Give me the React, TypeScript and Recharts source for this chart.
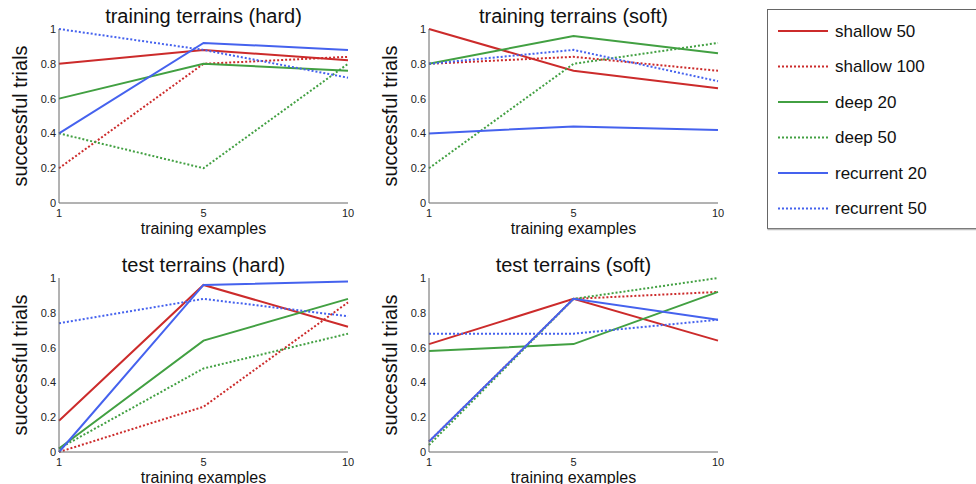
import { LineChart, Line, XAxis, YAxis } from "recharts";

const examples = ["1", "5", "10"];
const yTicks = [0, 0.2, 0.4, 0.6, 0.8, 1];

const seriesNames = ["shallow 50", "shallow 100", "deep 20", "deep 50", "recurrent 20", "recurrent 50"];
const seriesColors = ["#cc2b2b", "#cc2b2b", "#42a042", "#42a042", "#4562ee", "#4562ee"];
const seriesDotted = [false, true, false, true, false, true];

// values per series, one entry per number of training examples (1, 5, 10)
const trainHard = [
  [0.8, 0.88, 0.82],
  [0.2, 0.8, 0.84],
  [0.6, 0.8, 0.76],
  [0.4, 0.2, 0.8],
  [0.4, 0.92, 0.88],
  [1.0, 0.88, 0.72],
];
const trainSoft = [
  [1.0, 0.76, 0.66],
  [0.8, 0.84, 0.76],
  [0.8, 0.96, 0.86],
  [0.2, 0.8, 0.92],
  [0.4, 0.44, 0.42],
  [0.8, 0.88, 0.7],
];
const testHard = [
  [0.18, 0.96, 0.72],
  [0.0, 0.26, 0.86],
  [0.02, 0.64, 0.88],
  [0.02, 0.48, 0.68],
  [0.0, 0.96, 0.98],
  [0.74, 0.88, 0.78],
];
const testSoft = [
  [0.62, 0.88, 0.64],
  [0.06, 0.88, 0.92],
  [0.58, 0.62, 0.92],
  [0.04, 0.88, 1.0],
  [0.06, 0.88, 0.76],
  [0.68, 0.68, 0.76],
];

const FONT = "'Liberation Sans', Arial, sans-serif";

function toRows(values: number[][]) {
  return examples.map((x, i) => {
    const row: Record<string, string | number> = { x };
    seriesNames.forEach((name, s) => {
      row[name] = values[s][i];
    });
    return row;
  });
}

function Panel({ title, values, left, top }: { title: string; values: number[][]; left: number; top: number }) {
  const data = toRows(values);
  return (
    <div style={{ position: "absolute", left, top, width: 370, height: 240 }}>
      <div
        style={{
          position: "absolute",
          left: 59,
          width: 289,
          top: 4,
          textAlign: "center",
          fontFamily: FONT,
          fontSize: 20,
          lineHeight: "24px",
          color: "#111",
          zIndex: 1,
        }}
      >
        {title}
      </div>
      <LineChart width={370} height={240} data={data} margin={{ top: 29, right: 22, bottom: 0, left: 0 }}>
        <XAxis
          dataKey="x"
          type="category"
          padding={{ left: 0, right: 0 }}
          height={37}
          tickLine={false}
          tickSize={4}
          tickMargin={2}
          axisLine={{ stroke: "#666" }}
          tick={{ fontSize: 11, fill: "#222", fontFamily: FONT }}
          interval={0}
          label={{
            content: (p: any) => {
              const vb = p.viewBox;
              return (
                <text
                  x={vb.x + vb.width / 2}
                  y={vb.y + 25}
                  textAnchor="middle"
                  dominantBaseline="central"
                  fontSize={16}
                  fontFamily={FONT}
                  fill="#111"
                >
                  training examples
                </text>
              );
            },
          }}
        />
        <YAxis
          type="number"
          domain={[0, 1]}
          ticks={yTicks}
          width={59}
          tickLine={false}
          tickSize={0}
          tickMargin={3}
          axisLine={{ stroke: "#666" }}
          tick={{ fontSize: 11, fill: "#222", fontFamily: FONT }}
          tickFormatter={(v: number) => String(v)}
          label={{
            content: (p: any) => {
              const vb = p.viewBox;
              const cx = vb.x + 20;
              const cy = vb.y + vb.height / 2;
              return (
                <text
                  x={cx}
                  y={cy}
                  transform={`rotate(-90 ${cx} ${cy})`}
                  textAnchor="middle"
                  dominantBaseline="central"
                  fontSize={20}
                  fontFamily={FONT}
                  fill="#111"
                >
                  successful trials
                </text>
              );
            },
          }}
        />
        {seriesNames.map((name, i) => (
          <Line
            key={name}
            dataKey={name}
            type="linear"
            stroke={seriesColors[i]}
            strokeWidth={2}
            strokeDasharray={seriesDotted[i] ? "2 2" : undefined}
            dot={false}
            activeDot={false}
            isAnimationActive={false}
          />
        ))}
      </LineChart>
    </div>
  );
}

function SeriesLegend() {
  return (
    <svg
      width={220}
      height={225}
      style={{ position: "absolute", left: 766, top: 8, overflow: "visible" }}
    >
      <rect x={1.5} y={1.5} width={220} height={219} fill="#fff" stroke="#666" strokeWidth={1} />
      <line x1={1.5} y1={221.5} x2={222} y2={221.5} stroke="#bbb" strokeWidth={1.5} />
      {seriesNames.map((name, i) => {
        const y = 23 + i * 35.5;
        return (
          <g key={name}>
            <line
              x1={12}
              x2={62}
              y1={y}
              y2={y}
              stroke={seriesColors[i]}
              strokeWidth={2}
              strokeDasharray={seriesDotted[i] ? "2 2" : undefined}
            />
            <text x={69} y={y} dominantBaseline="central" fontSize={17} fontFamily={FONT} fill="#111">
              {name}
            </text>
          </g>
        );
      })}
    </svg>
  );
}

export default function App() {
  return (
    <div
      style={{
        position: "absolute",
        left: 0,
        top: 0,
        width: 976,
        height: 484,
        overflow: "hidden",
        background: "#fff",
      }}
    >
      <Panel title="training terrains (hard)" values={trainHard} left={0} top={0} />
      <Panel title="training terrains (soft)" values={trainSoft} left={370} top={0} />
      <Panel title="test terrains (hard)" values={testHard} left={0} top={249} />
      <Panel title="test terrains (soft)" values={testSoft} left={370} top={249} />
      <SeriesLegend />
    </div>
  );
}
